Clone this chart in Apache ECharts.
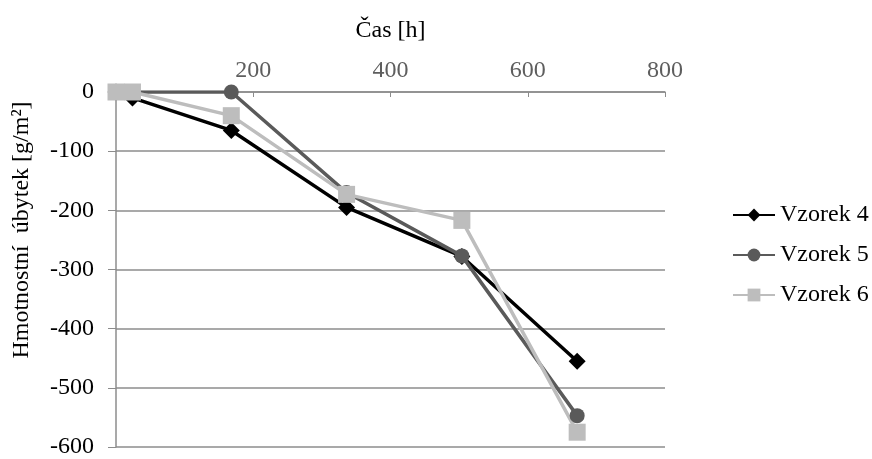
<!DOCTYPE html>
<html>
<head>
<meta charset="utf-8">
<script src="https://cdn.jsdelivr.net/npm/echarts@6/dist/echarts.min.js"></script>
<style>html,body{margin:0;padding:0;background:#fff}#c{width:872px;height:459px}</style>
</head>
<body>
<div id="c"></div>
<script>
var hours = [0, 24, 168, 336, 504, 672];
var seriesNames = ['Vzorek 4', 'Vzorek 5', 'Vzorek 6'];
var vzorek4 = [0, -10, -65, -195, -278, -455];
var vzorek5 = [0, 0, 0, -170, -277, -547];
var vzorek6 = [0, 0, -40, -173, -217, -575];
var xTicks = [0, 200, 400, 600, 800];
var yTicks = [0, -100, -200, -300, -400, -500, -600];

function pairs(ys){ return hours.map(function(h,i){ return [h, ys[i]]; }); }

var font = '"Liberation Serif", "Times New Roman", serif';
var fs = 24;
var chart = echarts.init(document.getElementById('c'));
var mk = function(name, data, color, symbol, size){
  return {
    name: name, type: 'line', data: pairs(data),
    symbol: symbol, symbolSize: size,
    lineStyle: {color: color, width: 3.5},
    itemStyle: {color: color},
    animation: false
  };
};
chart.setOption({
  animation: false,
  grid: {left: 116, right: 207, top: 92, bottom: 7},
  xAxis: {
    type: 'value', position: 'top', min: xTicks[0], max: xTicks[xTicks.length-1], interval: 200,
    name: 'Čas [h]', nameLocation: 'middle', nameGap: 49,
    nameTextStyle: {fontFamily: font, fontSize: fs, color: '#000'},
    axisLine: {show: true, onZero: false, lineStyle: {color: '#8c8c8c', width: 1.5}},
    axisTick: {show: true, inside: true, length: 5, lineStyle: {color: '#8c8c8c'}},
    axisLabel: {fontFamily: font, fontSize: fs, color: '#5e5e5e', margin: 9,
      formatter: function(v){ return v === 0 ? '' : String(v); }},
    splitLine: {show: false}
  },
  yAxis: {
    type: 'value', min: yTicks[yTicks.length-1], max: yTicks[0], interval: 100,
    axisLine: {show: true, lineStyle: {color: '#8c8c8c', width: 1.5}},
    axisTick: {show: true, length: 8, lineStyle: {color: '#8c8c8c'}},
    axisLabel: {fontFamily: font, fontSize: fs, color: '#000', margin: 22},
    splitLine: {show: true, lineStyle: {color: '#8c8c8c', width: 1.5}}
  },
  legend: {
    orient: 'vertical', left: 727, top: 198,
    itemWidth: 42, itemHeight: 16, itemGap: 16,
    textStyle: {fontFamily: font, fontSize: fs, color: '#000', lineHeight: 24},
    data: seriesNames
  },
  graphic: [{
    type: 'text', x: 22, y: 230, rotation: Math.PI/2,
    style: {text: 'Hmotnostní  úbytek [g/m²]', font: fs + 'px ' + font, fill: '#000',
      textAlign: 'center', textVerticalAlign: 'middle'}
  }],
  series: [
    mk(seriesNames[0], vzorek4, '#000000', 'diamond', 17),
    mk(seriesNames[1], vzorek5, '#5a5a5a', 'circle', 15),
    mk(seriesNames[2], vzorek6, '#bdbdbd', 'rect', 17)
  ]
});
</script>
</body>
</html>
